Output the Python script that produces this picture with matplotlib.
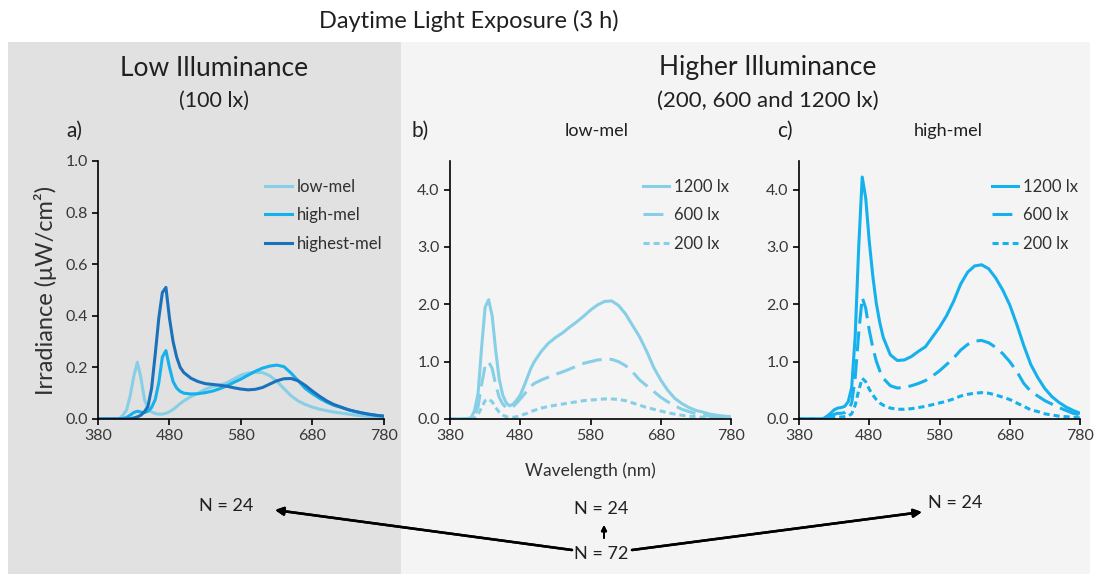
import matplotlib
matplotlib.use('Agg')
import matplotlib.pyplot as plt
from matplotlib.patches import Rectangle

plt.rcParams['font.family'] = ['Lato', 'DejaVu Sans']

# wavelength grid (nm)
wl = [380, 400, 410, 415, 420, 425, 430, 435, 440, 445, 450, 455, 460, 465, 470, 475,
      480, 485, 490, 495, 500, 510, 520, 530, 540, 550, 560, 570, 580, 590, 600, 610,
      620, 630, 640, 650, 660, 670, 680, 690, 700, 710, 720, 730, 740, 750, 760, 770, 780]

# a) 100 lx
low_mel_100 = [0, 0, 0.002, 0.015, 0.035, 0.09, 0.165, 0.22, 0.16, 0.075, 0.04, 0.027, 0.021,
               0.019, 0.019, 0.022, 0.028, 0.037, 0.048, 0.06, 0.07, 0.087, 0.1, 0.115, 0.125,
               0.131, 0.14, 0.155, 0.17, 0.178, 0.181, 0.18, 0.168, 0.147, 0.118, 0.09, 0.07,
               0.056, 0.046, 0.038, 0.032, 0.027, 0.023, 0.019, 0.015, 0.012, 0.01, 0.008, 0.007]
high_mel_100 = [0, 0, 0, 0.002, 0.006, 0.015, 0.025, 0.03, 0.027, 0.025, 0.03, 0.045, 0.075,
                0.14, 0.24, 0.265, 0.2, 0.145, 0.12, 0.107, 0.1, 0.097, 0.098, 0.102, 0.108,
                0.117, 0.128, 0.142, 0.155, 0.17, 0.185, 0.197, 0.205, 0.209, 0.203, 0.178,
                0.148, 0.118, 0.098, 0.08, 0.065, 0.053, 0.045, 0.036, 0.029, 0.023, 0.018,
                0.014, 0.011]
highest_mel_100 = [0, 0, 0, 0, 0, 0.001, 0.004, 0.008, 0.015, 0.028, 0.05, 0.12, 0.25, 0.39,
                   0.49, 0.51, 0.39, 0.3, 0.24, 0.2, 0.18, 0.158, 0.145, 0.137, 0.134, 0.131,
                   0.127, 0.121, 0.116, 0.113, 0.115, 0.122, 0.135, 0.148, 0.156, 0.157, 0.148,
                   0.13, 0.108, 0.088, 0.07, 0.056, 0.046, 0.036, 0.029, 0.023, 0.018, 0.014,
                   0.011]

# b) low-mel
low_1200 = [0, 0, 0.02, 0.15, 0.45, 1.25, 1.95, 2.08, 1.8, 1.2, 0.7, 0.42, 0.28, 0.23, 0.26,
            0.33, 0.42, 0.56, 0.72, 0.88, 1.0, 1.18, 1.32, 1.42, 1.5, 1.6, 1.69, 1.79, 1.9,
            1.99, 2.05, 2.06, 1.98, 1.83, 1.63, 1.43, 1.18, 0.9, 0.68, 0.5, 0.36, 0.27, 0.2,
            0.15, 0.12, 0.085, 0.065, 0.05, 0.04]
low_600 = [0, 0, 0.01, 0.07, 0.22, 0.6, 0.93, 1.0, 0.88, 0.6, 0.38, 0.26, 0.2, 0.19, 0.22,
           0.28, 0.35, 0.42, 0.5, 0.57, 0.62, 0.68, 0.73, 0.78, 0.82, 0.87, 0.92, 0.97, 1.0,
           1.03, 1.04, 1.04, 1.0, 0.93, 0.82, 0.68, 0.58, 0.48, 0.38, 0.3, 0.23, 0.17, 0.13,
           0.09, 0.065, 0.05, 0.035, 0.025, 0.02]
low_200 = [0, 0, 0, 0.02, 0.08, 0.2, 0.32, 0.35, 0.3, 0.2, 0.12, 0.07, 0.04, 0.03, 0.03,
           0.04, 0.06, 0.08, 0.1, 0.13, 0.15, 0.19, 0.22, 0.24, 0.26, 0.28, 0.3, 0.32, 0.33,
           0.34, 0.35, 0.35, 0.34, 0.32, 0.28, 0.24, 0.2, 0.17, 0.14, 0.11, 0.085, 0.065,
           0.05, 0.04, 0.03, 0.022, 0.017, 0.013, 0.01]

# c) high-mel
high_1200 = [0, 0, 0, 0.01, 0.05, 0.1, 0.16, 0.19, 0.2, 0.22, 0.3, 0.55, 1.45, 3.0, 4.22,
             3.85, 3.1, 2.5, 2.02, 1.68, 1.42, 1.12, 1.02, 1.03, 1.09, 1.18, 1.26, 1.43, 1.6,
             1.8, 2.05, 2.35, 2.56, 2.67, 2.69, 2.62, 2.46, 2.25, 1.99, 1.65, 1.28, 0.95,
             0.72, 0.53, 0.39, 0.29, 0.21, 0.15, 0.1]
high_600 = [0, 0, 0, 0.005, 0.02, 0.05, 0.08, 0.1, 0.1, 0.11, 0.15, 0.28, 0.72, 1.5, 2.12,
            1.93, 1.55, 1.25, 1.01, 0.84, 0.71, 0.58, 0.54, 0.55, 0.58, 0.62, 0.67, 0.75,
            0.84, 0.95, 1.06, 1.2, 1.3, 1.36, 1.37, 1.33, 1.25, 1.14, 1.0, 0.83, 0.62, 0.48,
            0.4, 0.32, 0.26, 0.2, 0.15, 0.1, 0.07]
high_200 = [0, 0, 0, 0, 0.005, 0.015, 0.025, 0.03, 0.035, 0.04, 0.05, 0.09, 0.24, 0.5, 0.71,
            0.65, 0.52, 0.42, 0.34, 0.28, 0.24, 0.19, 0.17, 0.17, 0.18, 0.2, 0.22, 0.25, 0.28,
            0.31, 0.35, 0.4, 0.43, 0.45, 0.46, 0.45, 0.42, 0.38, 0.34, 0.28, 0.22, 0.16, 0.13,
            0.09, 0.07, 0.05, 0.04, 0.03, 0.02]

c_low = '#86cfe6'
c_high = '#14b1ec'
c_highest = '#1b72ba'
lw = 2.2
dash_600 = (6.5, 2.6)
dash_200 = (2.0, 1.3)

W, H = 1096, 574
fig = plt.figure(figsize=(W / 100, H / 100), dpi=100)


def fx(x):
    return x / W


def fy(y):
    return 1 - y / H


# panel backgrounds
fig.patches.append(Rectangle((fx(8), 0), fx(401) - fx(8), fy(42), transform=fig.transFigure,
                             facecolor='#e1e1e1', edgecolor='none', zorder=-10))
fig.patches.append(Rectangle((fx(401), 0), fx(1090) - fx(401), fy(42), transform=fig.transFigure,
                             facecolor='#f4f4f4', edgecolor='none', zorder=-10))


def style_axes(ax, ymax, step):
    ax.set_facecolor('none')
    ax.set_xlim(380, 780)
    ax.set_ylim(0, ymax)
    ax.set_xticks(range(380, 781, 100))
    yt = []
    v = 0.0
    while v <= ymax + 1e-9:
        yt.append(round(v, 1))
        v += step
    ax.set_yticks(yt)
    ax.set_yticklabels([f'{t:.1f}' for t in yt])
    for s in ['top', 'right']:
        ax.spines[s].set_visible(False)
    for s in ['left', 'bottom']:
        ax.spines[s].set_linewidth(1.2)
    ax.tick_params(direction='out', length=4, width=1.2, labelsize=11.5, colors='black',
                   labelcolor='#383838')


h = (419 - 161) / H
ax_a = fig.add_axes([fx(98), fy(419), fx(384) - fx(98), h])
ax_b = fig.add_axes([fx(450), fy(419), fx(731) - fx(450), h])
ax_c = fig.add_axes([fx(799), fy(419), fx(1080) - fx(799), h])

ax_a.plot(wl, low_mel_100, color=c_low, lw=lw, label='low-mel')
ax_a.plot(wl, high_mel_100, color=c_high, lw=lw, label='high-mel')
ax_a.plot(wl, highest_mel_100, color=c_highest, lw=lw, label='highest-mel')
style_axes(ax_a, 1.0, 0.2)
ax_a.set_ylabel('Irradiance (μW/cm²)', fontsize=17, color='#303030', labelpad=6)

for ax, col, s1200, s600, s200 in [(ax_b, c_low, low_1200, low_600, low_200),
                                   (ax_c, c_high, high_1200, high_600, high_200)]:
    ax.plot(wl, s1200, color=col, lw=lw, label='1200 lx')
    ax.plot(wl, s600, color=col, lw=lw, dashes=dash_600, label='600 lx')
    ax.plot(wl, s200, color=col, lw=lw, dashes=dash_200, label='200 lx')
    style_axes(ax, 4.5, 1.0)

for ax in [ax_a, ax_b, ax_c]:
    leg = ax.legend(loc='upper right', bbox_to_anchor=(1.03, 0.97), frameon=False, fontsize=12,
                    handlelength=1.6, handletextpad=0.3, labelspacing=0.75, borderaxespad=0.2)
    for t in leg.get_texts():
        t.set_color('#303030')

ax_b.set_xlabel('Wavelength (nm)', fontsize=12.5, color='#303030', labelpad=14)

# headings
fig.text(fx(469), fy(21), 'Daytime Light Exposure (3 h)', fontsize=17, ha='center', va='center',
         color='#202020')
fig.text(fx(214), fy(68), 'Low Illuminance', fontsize=19, ha='center', va='center', color='#202020')
fig.text(fx(214), fy(101), '(100 lx)', fontsize=15.5, ha='center', va='center', color='#202020')
fig.text(fx(768), fy(68), 'Higher Illuminance', fontsize=19, ha='center', va='center',
         color='#202020')
fig.text(fx(768), fy(101), '(200, 600 and 1200 lx)', fontsize=16, ha='center', va='center',
         color='#202020')
fig.text(fx(74), fy(131), 'a)', fontsize=15, ha='center', va='center', color='#202020')
fig.text(fx(420), fy(131), 'b)', fontsize=15, ha='center', va='center', color='#202020')
fig.text(fx(785), fy(131), 'c)', fontsize=15, ha='center', va='center', color='#202020')
fig.text(fx(597), fy(131), 'low-mel', fontsize=13, ha='center', va='center', color='#202020')
fig.text(fx(948), fy(131), 'high-mel', fontsize=13, ha='center', va='center', color='#202020')

# sample sizes
fig.text(fx(226), fy(506), 'N = 24', fontsize=13, ha='center', va='center', color='#202020')
fig.text(fx(601), fy(509), 'N = 24', fontsize=13, ha='center', va='center', color='#202020')
fig.text(fx(955), fy(503), 'N = 24', fontsize=13, ha='center', va='center', color='#202020')
fig.text(fx(601), fy(554), 'N = 72', fontsize=13, ha='center', va='center', color='#202020')

arrow = dict(arrowstyle='-|>', color='black', lw=1.8, mutation_scale=12, shrinkA=0, shrinkB=0)
fig.add_artist(plt.annotate('', xy=(fx(275), fy(510)), xytext=(fx(572), fy(550)),
                            xycoords='figure fraction', textcoords='figure fraction',
                            arrowprops=arrow))
fig.add_artist(plt.annotate('', xy=(fx(922), fy(512)), xytext=(fx(632), fy(550)),
                            xycoords='figure fraction', textcoords='figure fraction',
                            arrowprops=arrow))
fig.add_artist(plt.annotate('', xy=(fx(604), fy(525)), xytext=(fx(604), fy(538)),
                            xycoords='figure fraction', textcoords='figure fraction',
                            arrowprops=dict(arrowstyle='-|>', color='black', lw=1.3,
                                            mutation_scale=8, shrinkA=0, shrinkB=0)))

fig.savefig('out.png', dpi=100)
